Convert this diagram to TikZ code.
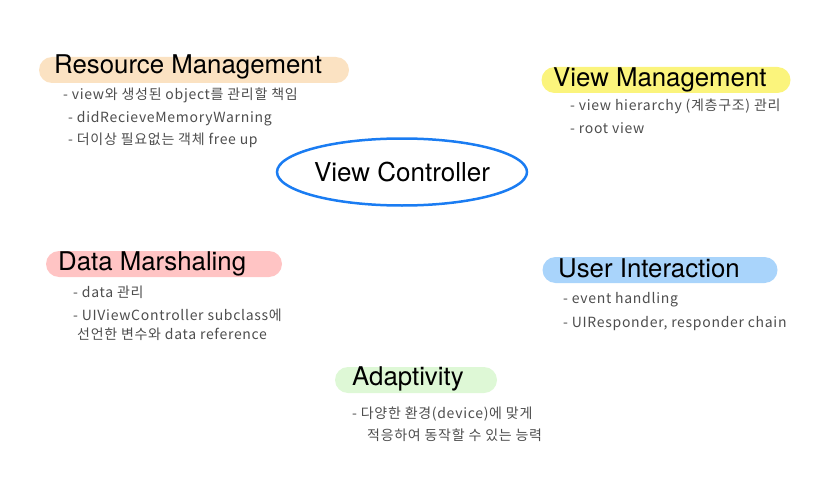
\documentclass[tikz,border=0pt]{standalone}
\usepackage{fontspec}
\setmainfont{TeX Gyre Heros}
\newfontfamily\hand[LetterSpace=5]{Noto Sans CJK KR}
\usetikzlibrary{shapes.geometric}
\definecolor{vcblue}{HTML}{1A7CF2}
\definecolor{peach}{HTML}{FBE2C2}
\definecolor{lemon}{HTML}{FBF47C}
\definecolor{rose}{HTML}{FFC4C4}
\definecolor{sky}{HTML}{A9D4FB}
\definecolor{mint}{HTML}{DEF8D6}
\definecolor{pencil}{HTML}{4D4D4D}

\begin{document}
\begin{tikzpicture}[x=1pt, y=-1pt,
  hilite/.style={rectangle, rounded corners=13pt, inner sep=0pt, minimum height=26},
  title/.style={anchor=base west, inner sep=0pt, font=\fontsize{25.8}{30}\selectfont},
  item/.style={anchor=base west, inner sep=0pt, text=pencil, font=\hand\fontsize{14}{17}\selectfont}]
\useasboundingbox (0,0) rectangle (840,500);

\node[ellipse, draw=vcblue, line width=2.5pt, inner sep=0pt, minimum width=250, minimum height=67, font=\fontsize{26}{30}\selectfont] (vc) at (402,172) {View Controller};

% Resource Management
\node[hilite, fill=peach, minimum width=310] (rmbox) at (194,70) {};
\node[title] (rm) at (54,74) {Resource Management};
\node[item] (rm1) at (63,100) {- view와 생성된 object를 관리할 책임};
\node[item] (rm2) at (68,122) {- didRecieveMemoryWarning};
\node[item] (rm3) at (68,144) {- 더이상 필요없는 객체 free up};

% View Management
\node[hilite, fill=lemon, minimum width=249] (vmbox) at (666,80) {};
\node[title] (vm) at (553,87) {View Management};
\node[item] (vm1) at (570,111) {- view hierarchy (계층구조) 관리};
\node[item] (vm2) at (570,134) {- root view};

% Data Marshaling
\node[hilite, fill=rose, minimum width=236] (dmbox) at (164,264) {};
\node[title] (dm) at (58,270) {Data Marshaling};
\node[item] (dm1) at (73,297) {- data 관리};
\node[item] (dm2) at (73,320) {- UIViewController subclass에};
\node[item] (dm3) at (77,339) {선언한 변수와 data reference};

% User Interaction
\node[hilite, fill=sky, minimum width=235] (uibox) at (660,270) {};
\node[title] (ui) at (558,277) {User Interaction};
\node[item] (ui1) at (563,303) {- event handling};
\node[item] (ui2) at (563,327) {- UIResponder, responder chain};

% Adaptivity
\node[hilite, fill=mint, minimum width=162] (adbox) at (416,380) {};
\node[title] (ad) at (352,385) {Adaptivity};
\node[item] (ad1) at (352,418) {- 다양한 환경(device)에 맞게};
\node[item] (ad2) at (367,440) {적응하여 동작할 수 있는 능력};
\end{tikzpicture}
\end{document}
